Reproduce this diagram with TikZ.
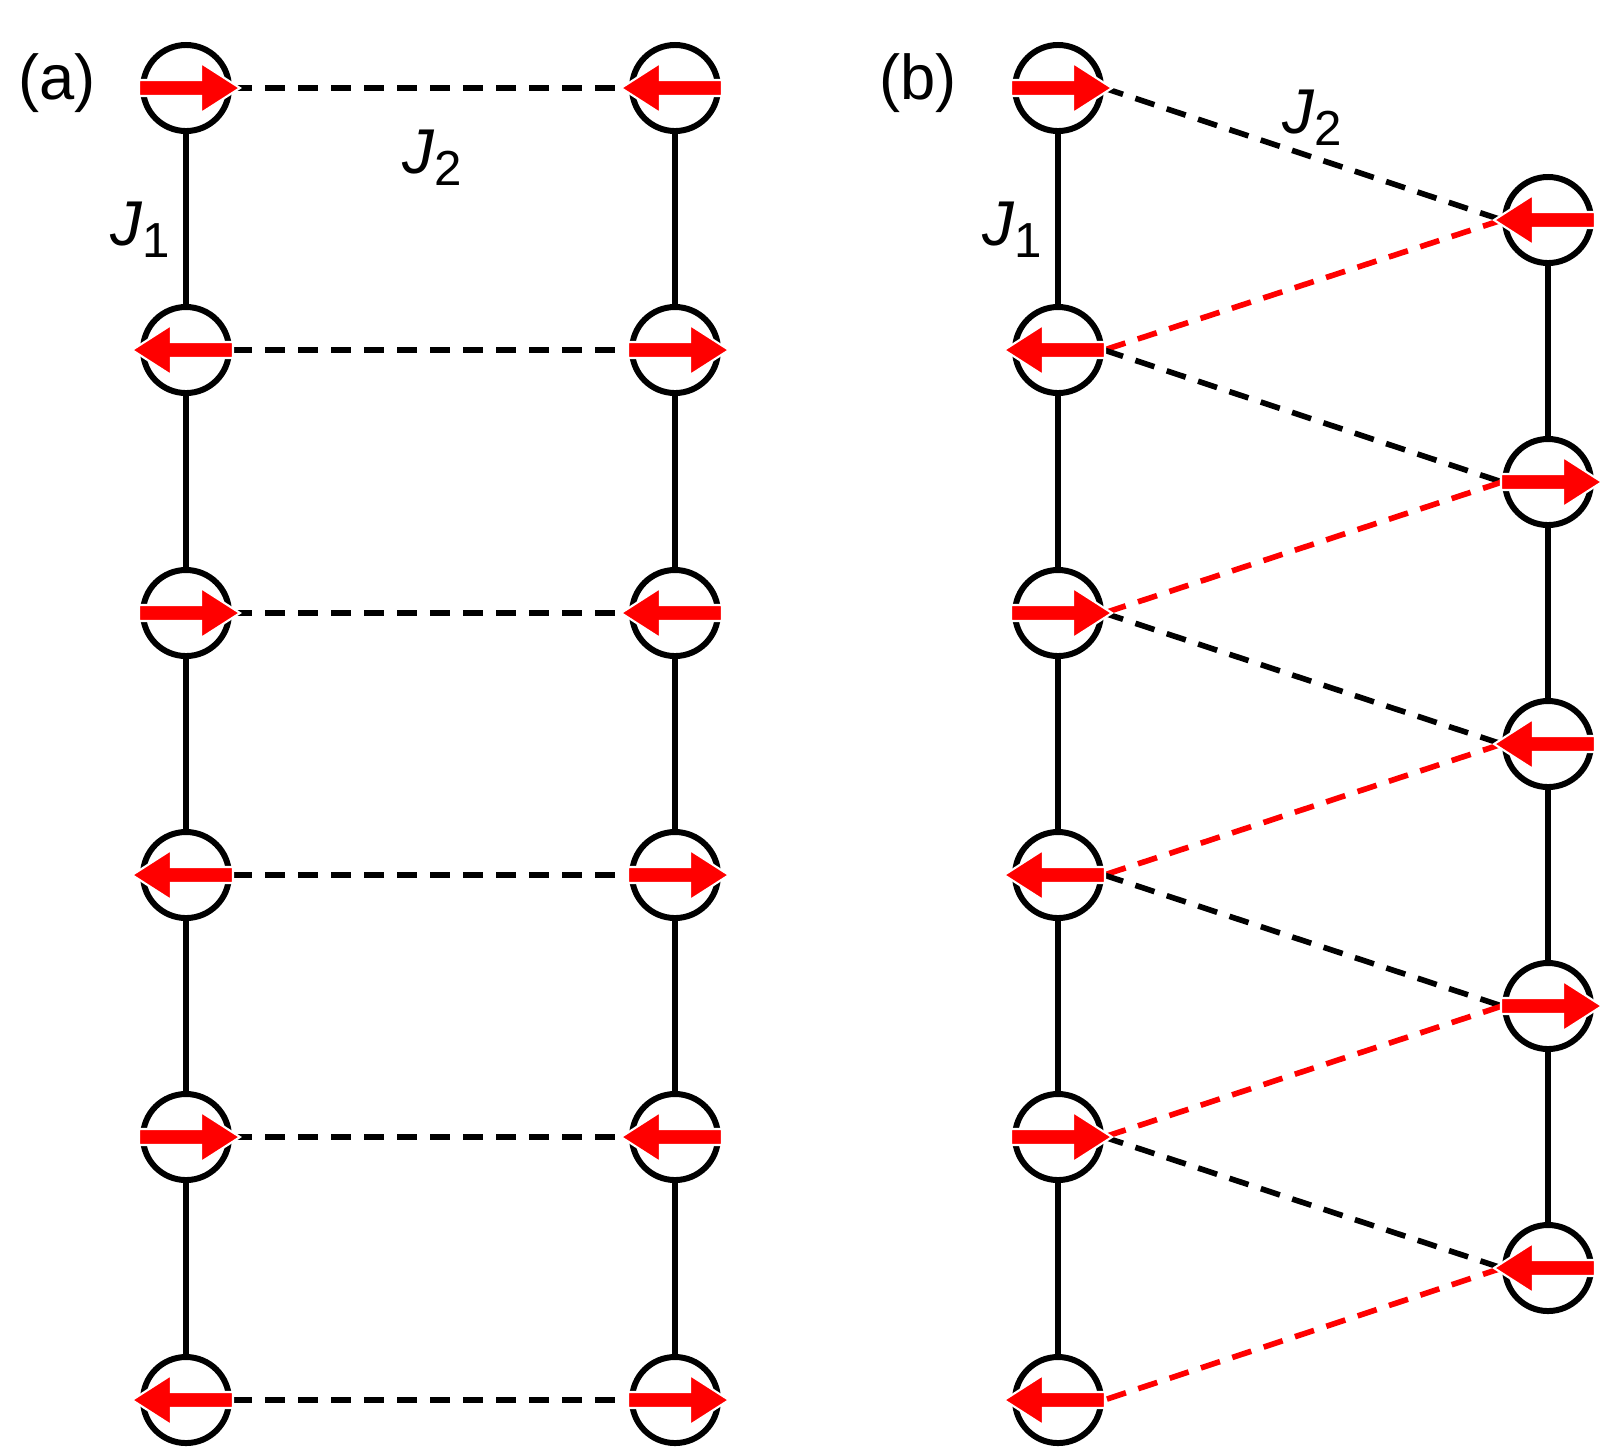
\documentclass[tikz,border=0pt]{standalone}
\usepackage{fontspec}
\setmainfont{Liberation Sans}
\newcommand{\Jlab}[1]{\textit{J}\raisebox{-0.35ex}{\fontsize{14}{16}\selectfont #1}}
\begin{document}
\begin{tikzpicture}[x=0.01cm,y=-0.01cm,
  site/.style={circle,draw=black,line width=1.7pt,minimum size=0.86cm,inner sep=0pt},
  bond/.style={line width=1.6pt,black},
  jb/.style={line width=1.6pt,dash pattern=on 0.2cm off 0.13cm},
  lab/.style={font=\fontsize{18}{20}\selectfont}]
\useasboundingbox (0,0) rectangle (1613,1453);
\tikzset{
  spinR/.pic={\fill[red,draw=white,line width=0.6pt] (-47,-8)--(15,-8)--(15,-25)--(54,0)--(15,25)--(15,8)--(-47,8)--cycle;},
  spinL/.pic={\fill[red,draw=white,line width=0.6pt] (47,-8)--(-15,-8)--(-15,-25)--(-54,0)--(-15,25)--(-15,8)--(47,8)--cycle;}}
% panel a
\foreach \i/\y in {1/88,2/350,3/613,4/875,5/1137,6/1400}{
  \node[site] (aL\i) at (186,\y) {};
  \node[site] (aR\i) at (675,\y) {};
}
\foreach \i in {1,...,5}{\pgfmathtruncatemacro\j{\i+1}
  \draw[bond] (aL\i)--(aL\j); \draw[bond] (aR\i)--(aR\j);}
\foreach \i in {1,...,6}{\draw[jb] (aL\i.east)--(aR\i.west);}
\foreach \i/\y in {1/88,3/613,5/1137}{
  \pic at (186,\y) {spinR}; \pic at (675,\y) {spinL};}
\foreach \i/\y in {2/350,4/875,6/1400}{
  \pic at (186,\y) {spinL}; \pic at (675,\y) {spinR};}
\node[lab] (la) at (57,83) {(a)};
\node[lab] (j1a) at (140,230) {\Jlab{1}};
\node[lab] (j2a) at (432,158) {\Jlab{2}};
% panel b
\foreach \i/\y in {1/88,2/350,3/613,4/875,5/1137,6/1400}{
  \node[site] (bL\i) at (1058,\y) {};}
\foreach \i/\y in {1/220,2/482,3/744,4/1006,5/1268}{
  \node[site] (bR\i) at (1548,\y) {};}
\foreach \i in {1,...,5}{\pgfmathtruncatemacro\j{\i+1}
  \draw[bond] (bL\i)--(bL\j);}
\foreach \i in {1,...,4}{\pgfmathtruncatemacro\j{\i+1}
  \draw[bond] (bR\i)--(bR\j);}
\foreach \i in {1,...,5}{\pgfmathtruncatemacro\j{\i+1}
  \draw[jb] (bL\i.east) -- (bR\i.west);
  \draw[jb,red] (bR\i.west) -- (bL\j.east);}
\foreach \y in {88,613,1137}{\pic at (1058,\y) {spinR};}
\foreach \y in {350,875,1400}{\pic at (1058,\y) {spinL};}
\foreach \y in {220,744,1268}{\pic at (1548,\y) {spinL};}
\foreach \y in {482,1006}{\pic at (1548,\y) {spinR};}
\node[lab] (lb) at (918,83) {(b)};
\node[lab] (j1b) at (1012,230) {\Jlab{1}};
\node[lab] (j2b) at (1312,118) {\Jlab{2}};
\end{tikzpicture}
\end{document}
